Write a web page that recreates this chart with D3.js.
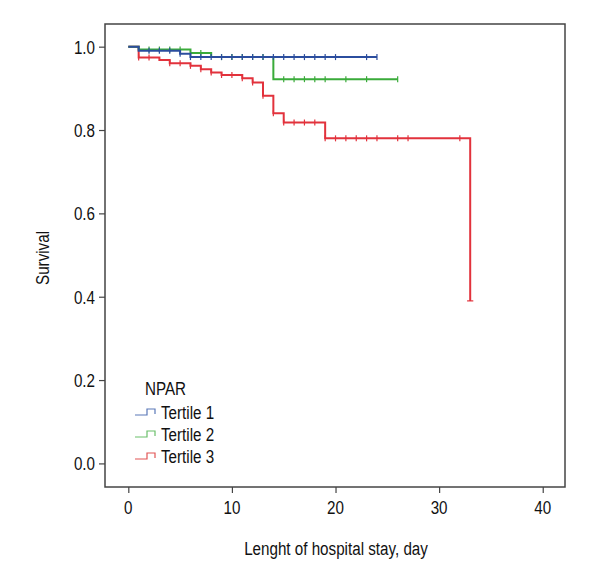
<!DOCTYPE html>
<html><head><meta charset="utf-8">
<script src="https://cdn.jsdelivr.net/npm/d3@7"></script>
<style>
body{margin:0;background:#fff;}
text{font-family:"Liberation Sans",Arial,sans-serif;fill:#111;}
</style></head>
<body><svg id="c" width="600" height="580"></svg>
<script>
const seriesNames = ["Tertile 1","Tertile 2","Tertile 3"];
const seriesColors = ["#2b4d9e","#3aab3a","#e2323c"];
const legendColors = ["#5a78b8","#6abf6a","#e25555"];
// step times and survival values
const t1Times = [0,1,5,6,24];
const t1Surv  = [1,0.990,0.983,0.975,0.975];
const t2Times = [0,1,6,8,14,26];
const t2Surv  = [1,0.993,0.985,0.975,0.922,0.922];
const t3Times = [0,1,3,4,6,7,8,9,11,12,13,14,15,19,33];
const t3Surv  = [1,0.974,0.968,0.960,0.954,0.946,0.938,0.932,0.924,0.914,0.882,0.840,0.818,0.780,0.390];
// censoring times
const t1Cens = [2,3,4,5,6,7,8,9,10,11,12,13,14,15,16,17,18,19,20,23,24];
const t2Cens = [2,3,4,5,7,9,10,11,12,13,15,16,17,18,19,21,23,26];
const t3Cens = [1,2,4,5,6,7,8,9,10,11,12,13,14,15,16,17,18,19,20,21,22,23,24,26,27,32];
const xTicks = [0,10,20,30,40];
const yTicks = [0,0.2,0.4,0.6,0.8,1.0];
const legendTitle = "NPAR";
const xTitle = "Lenght of hospital stay, day";
const yTitle = "Survival";

const svg = d3.select("#c");
const L=105,R=565,T=24,B=487;
const x = d3.scaleLinear().domain([-2.25,42.15]).range([L,R]);
const y = d3.scaleLinear().domain([-0.0566,1.0544]).range([B,T]);
const SX = 0.8; // horizontal condensing of text
const FS = 19;

function ctext(px,py,str,size,anchor,rot){
  const g = svg.append("g").attr("transform",`translate(${px},${py})${rot?` rotate(${rot})`:""} scale(${SX},1)`);
  g.append("text").attr("text-anchor",anchor||"start").style("font-size",size+"px").text(str);
  return g;
}

const series = [
  {times:t1Times,surv:t1Surv,cens:t1Cens},
  {times:t2Times,surv:t2Surv,cens:t2Cens},
  {times:t3Times,surv:t3Surv,cens:t3Cens}
];
function survAt(s,t){let v=1;for(let i=0;i<s.times.length;i++){if(s.times[i]<=t)v=s.surv[i];}return v;}

const line = d3.line().x(d=>x(d[0])).y(d=>y(d[1])).curve(d3.curveStepAfter);
[2,1,0].forEach(i=>{
  const s=series[i];
  const pts=s.times.map((t,j)=>[t,s.surv[j]]);
  svg.append("path").attr("d",line(pts)).attr("fill","none")
    .attr("stroke",seriesColors[i]).attr("stroke-width",2);
  svg.selectAll(null).data(s.cens).enter().append("line")
    .attr("x1",d=>x(d)).attr("x2",d=>x(d))
    .attr("y1",d=>y(survAt(s,d))-3).attr("y2",d=>y(survAt(s,d))+3)
    .attr("stroke",seriesColors[i]).attr("stroke-width",1.2);
});
svg.append("line").attr("x1",x(32.7)).attr("x2",x(33.3))
  .attr("y1",y(t3Surv[t3Surv.length-1])).attr("y2",y(t3Surv[t3Surv.length-1]))
  .attr("stroke",seriesColors[2]).attr("stroke-width",1.2);

// frame
svg.append("rect").attr("x",L).attr("y",T).attr("width",R-L).attr("height",B-T)
  .attr("fill","none").attr("stroke","#444").attr("stroke-width",1.5);

const xa = svg.append("g").attr("transform",`translate(0,${B})`)
  .call(d3.axisBottom(x).tickValues(xTicks).tickSize(6).tickFormat(""));
const ya = svg.append("g").attr("transform",`translate(${L},0)`)
  .call(d3.axisLeft(y).tickValues(yTicks).tickSize(6).tickFormat(""));
[xa,ya].forEach(a=>{
  a.select(".domain").remove();
  a.selectAll(".tick line").attr("stroke","#444").attr("stroke-width",1.2);
});
xTicks.forEach(v=>ctext(x(v),514,d3.format("d")(v),FS,"middle"));
yTicks.forEach(v=>ctext(95,y(v)+7,d3.format(".1f")(v),FS,"end"));

ctext(336,555,xTitle,FS,"middle");
ctext(49,258,yTitle,FS,"middle",-90);

// legend
ctext(145,395,legendTitle,FS,"start");
seriesNames.forEach((n,i)=>{
  const cy=412+i*22;
  svg.append("path").attr("d",`M135,${cy+3}H147V${cy-3}H155V${cy+2}`)
    .attr("fill","none").attr("stroke",legendColors[i]).attr("stroke-width",1.2);
  ctext(161,cy+7,n,FS,"start");
});
</script></body></html>
